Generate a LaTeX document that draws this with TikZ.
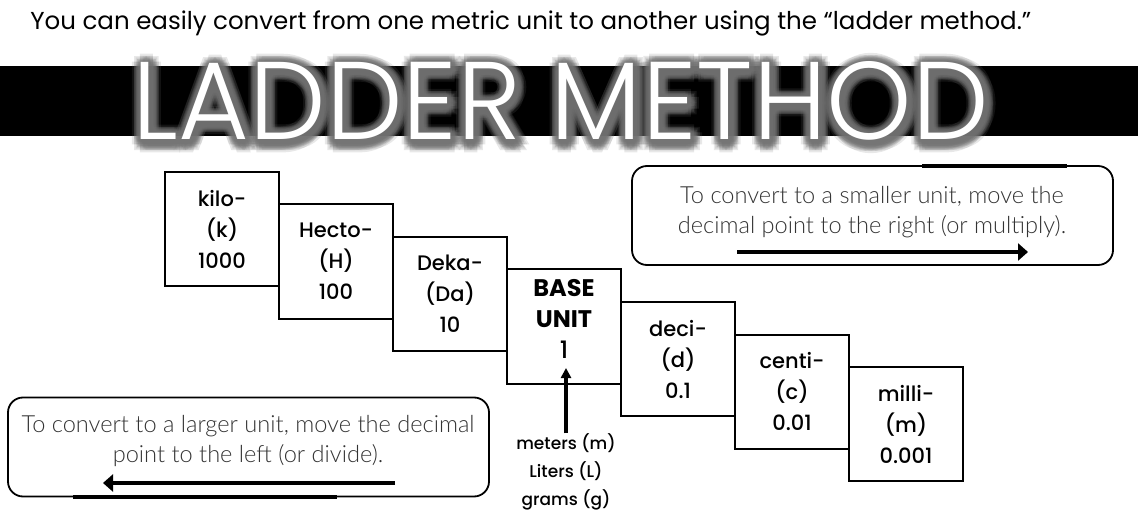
\documentclass[tikz,border=0pt]{standalone}
\usepackage{fontspec}
\usepackage{graphicx}
\usetikzlibrary{arrows.meta}
\setmainfont{Poppins}
\newfontfamily\boxfont{Poppins Medium}
\newfontfamily\titlefont{Poppins Light}
\newfontfamily\halofont{Poppins Light}[FakeBold=5]
\newfontfamily\notefont{Lato Light}
\tikzset{
  unitbox/.style={rectangle,draw=black,line width=1pt,minimum width=57pt,minimum height=57pt,inner sep=0pt,align=center,font=\boxfont\fontsize{10.5}{15.5}\selectfont},
  notebox/.style={rectangle,rounded corners=7.5pt,draw=black,line width=0.9pt,minimum width=240.5pt,minimum height=49.5pt},
  notetext/.style={font=\notefont\fontsize{11.8}{15}\selectfont,text=black!80,align=center,inner sep=0pt},
  movearrow/.style={-{Triangle[length=5pt,width=8.5pt]},line width=1.8pt},
  basearrow/.style={-{Triangle[length=5pt,width=5pt]},line width=1.8pt},
  halo/.style={text=black!55,opacity=0.16,inner sep=0pt},
}
\newcommand{\laddertitle}[1]{\resizebox{428pt}{39pt}{#1LADDER METHOD}}

\begin{document}
\begin{tikzpicture}[x=0.5pt,y=-0.5pt]
  \useasboundingbox (0,0) rectangle (1138,523);
  \node[font=\fontsize{12.25}{15}\selectfont,anchor=base west,inner sep=0pt] (intro) at (30,30) {You can easily convert from one metric unit to another using the “ladder method.”};
  \fill[black] (0,66) rectangle (1138,136);
  \foreach \r in {2,4,6,8}
    \foreach \a in {0,45,...,315}
      {\node[halo,shift={(\a:\r)}] at (562,103) {\laddertitle{\halofont}};}
  \node[text=white,inner sep=0pt] (title) at (561,101) {\laddertitle{\titlefont}};
  \node[unitbox] (kilo) at (222,229) {kilo-\\(k)\\1000};
  \node[unitbox] (hecto) at (336,261.5) {Hecto-\\(H)\\100};
  \node[unitbox] (deka) at (450,294) {Deka-\\(Da)\\10};
  \node[unitbox] (base) at (564,326.5) {};
  \node[align=center,inner sep=0pt,font=\fontsize{12}{15.5}\selectfont] (baselabel) at (564,319) {\textbf{BASE}\\\textbf{UNIT}\\{\boxfont 1}};
  \node[unitbox] (deci) at (678,359) {deci-\\(d)\\0.1};
  \node[unitbox] (centi) at (792,391.5) {centi-\\(c)\\0.01};
  \node[unitbox] (milli) at (906,424) {milli-\\(m)\\0.001};
  \node[align=center,inner sep=0pt,font=\boxfont\fontsize{8.5}{14}\selectfont] (units) at (566,472) {meters (m)\\Liters (L)\\grams (g)};
  \coordinate (oneup) at (566,368);
  \draw[basearrow] (units.north) -- (oneup);
  \node[notebox] (tosmall) at (872.5,215.5) {};
  \node[notetext] (smalltxt) at (872,212) {To convert to a smaller unit, move the\\decimal point to the right (or multiply).};
  \coordinate (rs) at (737,252); \coordinate (re) at (1028,252);
  \draw[movearrow] (rs) -- (re);
  \draw[line width=2pt] (922,166) -- (1067,166);
  \node[notebox] (tolarge) at (248.5,447) {};
  \node[notetext] (largetxt) at (248,441) {To convert to a larger unit, move the decimal\\point to the left (or divide).};
  \coordinate (ls) at (395,483); \coordinate (le) at (103,483);
  \draw[movearrow] (ls) -- (le);
  \draw[line width=2pt] (73,497) -- (337,497);
\end{tikzpicture}
\end{document}
